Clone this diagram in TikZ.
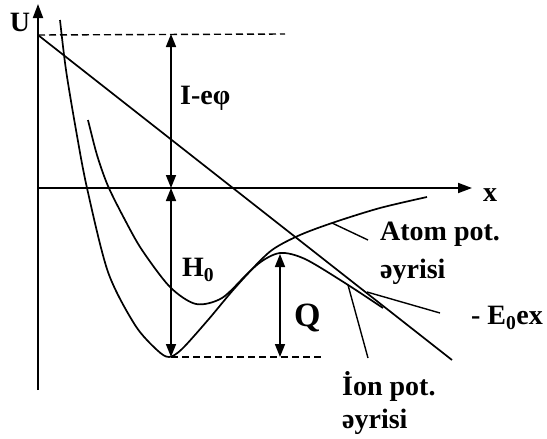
\documentclass[tikz,border=0pt]{standalone}
\usepackage{fontspec}
\setmainfont{Liberation Serif}
\usetikzlibrary{arrows.meta,positioning}

\begin{document}
\begin{tikzpicture}[
    x=1pt, y=-1pt,
    axis/.style={line width=1.8pt, -{Triangle[length=14pt,width=10pt]}},
    curve/.style={line width=1.7pt},
    dim/.style={line width=1.7pt, {Triangle[length=13pt,width=10pt]}-{Triangle[length=13pt,width=10pt]}},
    guide/.style={line width=1.4pt, dash pattern=on 7pt off 4pt},
    leader/.style={line width=1.4pt},
    lbl/.style={font=\fontsize{28}{32}\selectfont\bfseries, inner sep=0pt}
]
    \useasboundingbox (0,0) rectangle (547,439);

    % Reference points
    \coordinate (ybot) at (38,390);
    \coordinate (ytop) at (38,4);
    \coordinate (xbeg) at (38,188);
    \coordinate (xend) at (472,188);
    \coordinate (ltop) at (38,35);
    \coordinate (lend) at (452,360);
    \coordinate (vac) at (171,34);
    \coordinate (zero) at (171,188);
    \coordinate (well) at (171,357);
    \coordinate (peak) at (280,254);
    \coordinate (qbot) at (280,357);
    \coordinate (vacend) at (285,34);
    \coordinate (wellend) at (323,357);

    % Axes
    \draw[axis] (ybot) -- (ytop);
    \draw[axis] (xbeg) -- (xend);

    % Levels
    \draw[guide] (ltop) -- (vacend);
    \draw[guide] (well) -- (wellend);

    % External field line
    \draw[curve] (ltop) -- (lend);

    % Ion potential curve
    \draw[curve] plot[smooth] coordinates {(60,20) (66,70) (76,130) (87,188)
        (108,272) (135,325) (157,350) (169,357) (182,349) (208,320) (234,289)
        (258,264) (280,253) (305,259) (345,283) (383,308)};

    % Atom potential curve
    \draw[curve] plot[smooth] coordinates {(88,120) (97,155) (108,186)
        (125,220) (142,250) (170,287) (196,304) (222,298) (248,273)
        (272,250) (300,235) (335,222) (380,208) (427,197)};

    % Dimensions
    \draw[dim] (vac) -- (zero);
    \draw[dim] (zero) -- (well);
    \draw[dim] (peak) -- (qbot);

    % Labels
    \node[lbl] (ulab) at (20,22) {U};
    \node[lbl] (xlab) at (490,195) {x};
    \node[lbl, anchor=west] (work) at (180,98) {I-eφ};
    \node[lbl, anchor=west] (heat) at (182,270) {H\textsubscript{0}};
    \node[lbl, anchor=west, font=\fontsize{34}{36}\selectfont\bfseries] (act) at (294,318) {Q};
    \node[lbl, anchor=base west] (atom1) at (380,240) {Atom pot.};
    \node[lbl, anchor=base west] (atom2) at (380,278) {əyrisi};
    \node[lbl, anchor=base west] (ion1) at (342,395) {İon pot.};
    \node[lbl, anchor=base west] (ion2) at (342,428) {əyrisi};
    \node[lbl, anchor=east] (field) at (543,318) {- E\textsubscript{0}ex};

    % Leaders
    \coordinate (aon) at (332,223);
    \coordinate (aoff) at (368,240);
    \coordinate (ion) at (348,285);
    \coordinate (ioff) at (368,358);
    \coordinate (fon) at (367,292);
    \coordinate (foff) at (440,313);
    \draw[leader] (aon) -- (aoff);
    \draw[leader] (ion) -- (ioff);
    \draw[leader] (fon) -- (foff);
\end{tikzpicture}
\end{document}
